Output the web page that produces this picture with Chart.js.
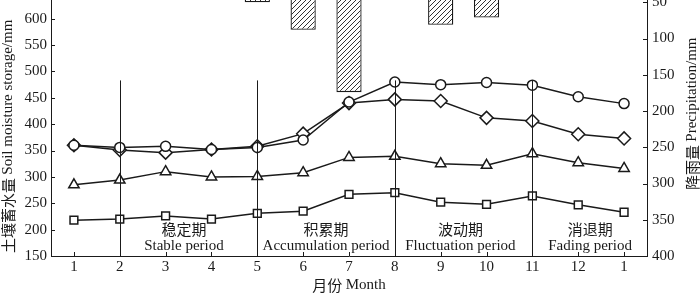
<!DOCTYPE html>
<html>
<head>
<meta charset="utf-8">
<script src="https://cdn.jsdelivr.net/npm/chart.js@4"></script>
<style>
  body { margin: 0; background: #fff; overflow: hidden; }
  #wrap { position: absolute; left: 0; top: -54px; width: 700px; height: 351px; }
</style>
</head>
<body>
<div id="wrap"><canvas id="chart"></canvas></div>
<script>
const months = ['1', '2', '3', '4', '5', '6', '7', '8', '9', '10', '11', '12', '1'];
const seriesCircle = [360, 356, 358, 352, 356, 370, 442, 480, 475, 479, 474, 452, 439];
const seriesDiamond = [360, 351, 346, 352, 358, 382, 440, 447, 444, 412, 406, 381, 373];
const seriesTriangle = [285, 294, 310, 300, 301, 308, 337, 339, 325, 322, 344, 327, 316];
const seriesSquare = [218, 220, 226, 220, 231, 235, 267, 270, 252, 248, 264, 247, 233];
const precipitation = [5, 8, 15, 25, 50, 88, 174, 35, 81, 71, 20, 8, 5];
const leftTicks = [150, 700, 50];
const rightTicks = [0, 400, 50];
const periodCn = ['稳定期', '积累期', '波动期', '消退期'];
const periodEn = ['Stable period', 'Accumulation period', 'Fluctuation period', 'Fading period'];
const dividerMonths = [1, 4, 7, 10];

const serif = '"Liberation Serif", "DejaVu Serif", serif';
const cjk = '"Noto Sans CJK SC", sans-serif';
const ink = '#1a1a1a';

const periodAt = [2.4, 5.5, 8.43, 11.26];
const dividerTop = 483;

function makeHatch(ctx) {
    const c = document.createElement('canvas');
    c.width = 5;
    c.height = 5;
    const g = c.getContext('2d');
    g.fillStyle = '#fff';
    g.fillRect(0, 0, 5, 5);
    g.strokeStyle = '#333';
    g.lineWidth = 1;
    g.beginPath();
    g.moveTo(0, 5); g.lineTo(5, 0);
    g.moveTo(-1, 1); g.lineTo(1, -1);
    g.moveTo(4, 6); g.lineTo(6, 4);
    g.stroke();
    return ctx.createPattern(c, 'repeat');
}

function lineSet(data, style, radius) {
    return {
        type: 'line',
        data: data,
        yAxisID: 'y',
        borderColor: ink,
        borderWidth: 1.5,
        pointStyle: style,
        pointRadius: radius,
        pointBorderWidth: 1.5,
        pointBorderColor: ink,
        pointBackgroundColor: '#fff',
        tension: 0,
        order: 0
    };
}

const extras = {
    id: 'extras',
    afterDatasetsDraw(chart) {
        const { ctx, chartArea, scales } = chart;
        const x = scales.x, y = scales.y, y2 = scales.y2;
        ctx.save();
        ctx.strokeStyle = ink;
        ctx.lineWidth = 1;

        dividerMonths.forEach(i => {
            const px = Math.round(x.getPixelForValue(i)) + 0.5;
            ctx.beginPath();
            ctx.moveTo(px, y.getPixelForValue(dividerTop));
            ctx.lineTo(px, chartArea.bottom);
            ctx.stroke();
        });

        ctx.beginPath();
        y.ticks.forEach(t => {
            const py = Math.round(y.getPixelForValue(t.value)) + 0.5;
            ctx.moveTo(chartArea.left, py);
            ctx.lineTo(chartArea.left + 4, py);
        });
        y2.ticks.forEach(t => {
            const py = Math.round(y2.getPixelForValue(t.value)) + 0.5;
            ctx.moveTo(chartArea.right - 4, py);
            ctx.lineTo(chartArea.right, py);
        });
        months.forEach((m, i) => {
            const px = Math.round(x.getPixelForValue(i)) + 0.5;
            ctx.moveTo(px, chartArea.bottom);
            ctx.lineTo(px, chartArea.bottom - 4);
        });
        ctx.stroke();

        ctx.fillStyle = ink;
        ctx.textAlign = 'center';
        ctx.textBaseline = 'middle';
        periodCn.forEach((t, i) => {
            const px = x.getPixelForValue(periodAt[i]);
            ctx.font = '15px ' + cjk;
            ctx.fillText(t, px, chartArea.bottom - 27);
            ctx.font = '15px ' + serif;
            ctx.fillText(periodEn[i], px, chartArea.bottom - 10);
        });

        const midX = (chartArea.left + chartArea.right) / 2;
        ctx.font = '15px ' + cjk;
        const cnW = ctx.measureText('月份 ').width;
        ctx.font = '15px ' + serif;
        const enW = ctx.measureText('Month').width;
        let sx = midX - (cnW + enW) / 2;
        ctx.textAlign = 'left';
        ctx.font = '15px ' + cjk;
        ctx.fillText('月份 ', sx, chartArea.bottom + 29);
        ctx.font = '15px ' + serif;
        ctx.fillText('Month', sx + cnW, chartArea.bottom + 29);

        drawVertical(ctx, '土壤蓄水量 ', 'Soil moisture storage/mm', 8, chartArea.bottom - 3);
        drawVertical(ctx, '降雨量 ', 'Precipitation/mm', 692, chartArea.bottom - 66);
        ctx.restore();
    }
};

function drawVertical(ctx, cn, en, cx, bottom) {
    ctx.save();
    ctx.translate(cx, bottom);
    ctx.rotate(-Math.PI / 2);
    ctx.textAlign = 'left';
    ctx.textBaseline = 'middle';
    ctx.font = '15px ' + cjk;
    ctx.fillText(cn, 0, 0);
    const w = ctx.measureText(cn).width;
    ctx.font = '15px ' + serif;
    ctx.fillText(en, w, 0);
    ctx.restore();
}

const canvas = document.getElementById('chart');
const ctx = canvas.getContext('2d');

const myChart = new Chart(ctx, {
    data: {
        labels: months,
        datasets: [
            lineSet(seriesCircle, 'circle', 5),
            lineSet(seriesDiamond, 'rectRot', 6.5),
            lineSet(seriesTriangle, 'triangle', 6),
            lineSet(seriesSquare, 'rect', 5.5),
            {
                type: 'bar',
                data: precipitation,
                yAxisID: 'y2',
                backgroundColor: makeHatch(ctx),
                borderColor: ink,
                borderWidth: 1.3,
                borderSkipped: false,
                barPercentage: 0.55,
                categoryPercentage: 1,
                order: 1
            }
        ]
    },
    options: {
        responsive: true,
        maintainAspectRatio: false,
        animation: false,
        layout: { autoPadding: false, padding: { top: 20, left: 0, right: 0, bottom: 0 } },
        plugins: { legend: { display: false }, tooltip: { enabled: false } },
        scales: {
            x: {
                type: 'category',
                offset: true,
                grid: { display: false, drawTicks: false },
                border: { display: true, color: ink, width: 1 },
                ticks: { color: ink, font: { family: serif, size: 15 }, padding: 2, maxRotation: 0, autoSkip: false },
                afterFit: s => { s.height = 41; }
            },
            y: {
                position: 'left',
                min: leftTicks[0],
                max: leftTicks[1],
                grid: { display: false, drawTicks: false },
                border: { display: true, color: ink, width: 1 },
                ticks: { stepSize: leftTicks[2], color: ink, font: { family: serif, size: 15 }, padding: 4 },
                afterFit: s => { s.width = 51; }
            },
            y2: {
                position: 'right',
                reverse: true,
                min: rightTicks[0],
                max: rightTicks[1],
                grid: { display: false, drawTicks: false },
                border: { display: true, color: ink, width: 1 },
                ticks: { stepSize: rightTicks[2], color: ink, font: { family: serif, size: 15 }, padding: 5 },
                afterFit: s => { s.width = 53; }
            }
        }
    },
    plugins: [extras]
});
</script>
</body>
</html>
